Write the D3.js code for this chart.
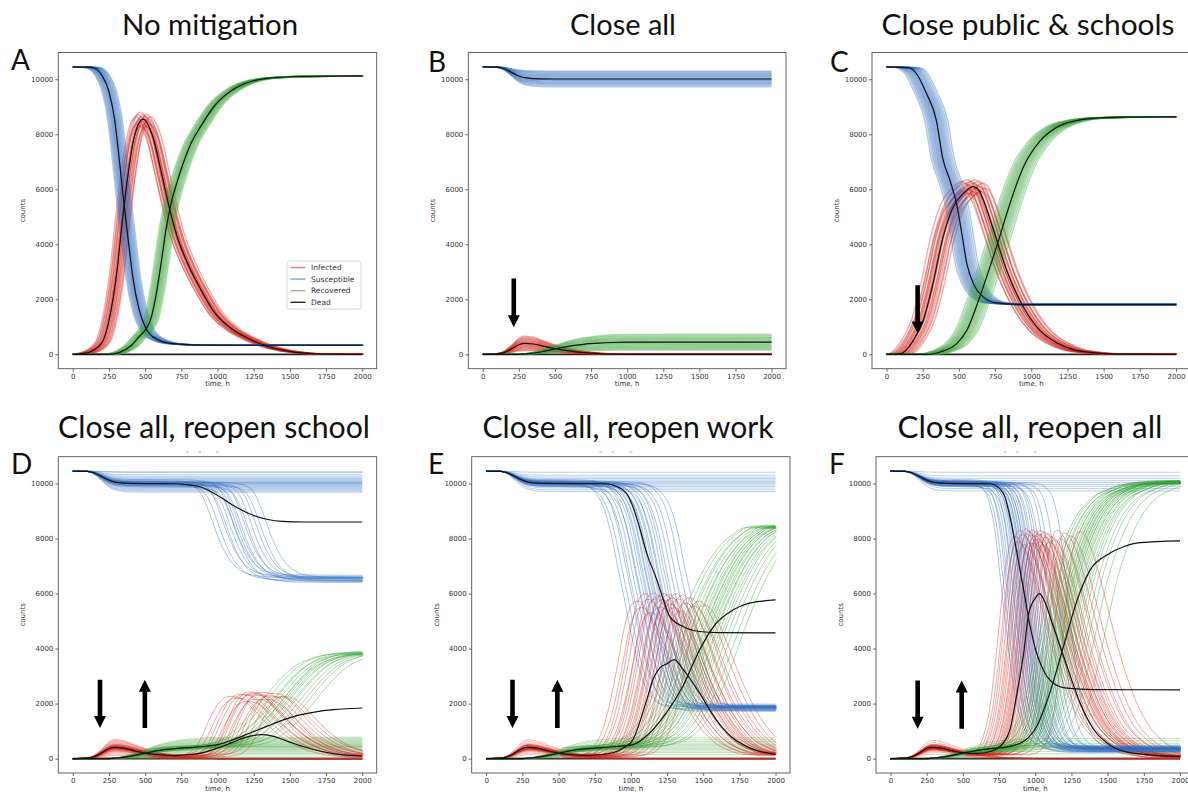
<!DOCTYPE html>
<html>
<head>
<meta charset="utf-8">
<script src="https://cdn.jsdelivr.net/npm/d3@7"></script>
<style>
  body { margin: 0; background: #fff; }
  svg { display: block; }
</style>
</head>
<body>
<svg id="chart" width="1188" height="793"></svg>
<script>
// ---------------- Axis ticks, names, titles ----------------
const xTicks = [0, 250, 500, 750, 1000, 1250, 1500, 1750, 2000];
const yTicks = [0, 2000, 4000, 6000, 8000, 10000];
const seriesNames = ["Infected", "Susceptible", "Recovered", "Dead"];
const panelLetters = ["A", "B", "C", "D", "E", "F"];
const panelTitles = ["No mitigation", "Close all", "Close public & schools",
  "Close all, reopen school", "Close all, reopen work", "Close all, reopen all"];

// ---------------- A: no mitigation (time h, count) ----------------
const aSus = [[0,10450],[100,10440],[150,10400],[200,10150],[250,9550],[290,8500],[320,7150],[350,5650],[380,4300],[415,2800],[460,1600],[505,950],[575,570],[690,390],[880,335],[1100,330],[2000,330]];
const aInf = [[0,0],[70,25],[140,140],[210,500],[255,1350],[300,2800],[345,4950],[380,6450],[415,7650],[450,8330],[485,8550],[520,8350],[560,7800],[600,6900],[640,5950],[680,5050],[720,4300],[790,3350],[875,2450],[990,1450],[1105,900],[1220,560],[1340,300],[1450,150],[1570,60],[1750,10],[2000,0]];
const aRec = [[0,0],[250,0],[320,60],[400,300],[460,650],[507,930],[540,1300],[577,2200],[610,3300],[646,4600],[680,5500],[720,6250],[760,6900],[820,7700],[880,8250],[990,9100],[1100,9600],[1220,9900],[1340,10030],[1570,10100],[2000,10120]];
// runs: [time offset h, early level factor, peak factor]
const aRuns = [[-48,1,1.01],[-40,1,0.98],[-34,1,1.02],[-28,1,0.99],[-23,1,1.0],[-18,1,1.03],[-13,1,0.97],[-9,1,1.01],[-5,1,0.99],[-1,1,1.0],[3,1,1.02],[7,1,0.98],[11,1,1.0],[16,1,1.01],[21,1,0.97],[26,1,1.02],[32,1,0.99],[38,1,1.0],[45,1,0.98],[53,1,1.01]];

// ---------------- B: close all (also the closed phase of D-F) ----------------
const closedSus = [[0,10450],[100,10440],[150,10380],[200,10250],[250,10120],[300,10050],[400,10015],[500,10010],[2000,10010]];
const closedInf = [[0,0],[100,15],[150,70],[200,200],[250,350],[290,400],[350,375],[420,300],[500,210],[600,125],[700,65],[800,28],[900,10],[1000,2],[1100,0],[2000,0]];
const closedRec = [[0,0],[250,0],[300,15],[400,85],[500,195],[600,295],[700,365],[800,405],[900,430],[1000,440],[2000,445]];
const bLevels = [0.35,0.42,0.5,0.57,0.64,0.71,0.78,0.85,0.92,0.98,1.04,1.1,1.17,1.24,1.31,1.38,1.46,1.55,1.65];

// ---------------- C: close public & schools ----------------
const cSus = [[0,10450],[150,10420],[200,10250],[275,9500],[345,8500],[390,7100],[440,6300],[485,5450],[520,4400],[555,3300],[600,2580],[670,2080],[760,1870],[950,1810],[2000,1810]];
const cInf = [[0,0],[90,10],[185,500],[255,1250],[320,2550],[390,4250],[460,5350],[530,5850],[600,6100],[640,5950],[670,5600],[740,4500],[830,3050],[945,1720],[1060,870],[1180,410],[1290,170],[1410,70],[1600,10],[2000,0]];
const cRec = [[0,0],[300,0],[370,85],[485,390],[555,870],[640,2020],[715,3180],[775,4150],[830,5100],[900,6200],[945,6800],[1060,7750],[1175,8250],[1290,8470],[1405,8570],[1640,8620],[2000,8630]];
const cRuns = [[-80,1,1.03],[-68,1,0.97],[-59,1,1.02],[-51,1,0.99],[-44,1,1.04],[-37,1,0.96],[-31,1,1.01],[-25,1,0.98],[-19,1,1.03],[-13,1,1.0],[-7,1,0.97],[-2,1,1.02],[4,1,0.99],[10,1,1.04],[16,1,0.96],[23,1,1.01],[30,1,0.98],[37,1,1.03],[45,1,1.0],[54,1,0.97],[65,1,1.02],[78,1,0.99]];

// ---------------- D: close all, reopen school ----------------
const dSusLate = [[800,10000],[900,9970],[990,9860],[1050,9550],[1100,8950],[1150,8200],[1200,7580],[1260,7070],[1330,6760],[1420,6610],[1550,6550],[2000,6530]];
const dInfLate = [[700,80],[850,100],[950,200],[1030,600],[1100,1400],[1170,2050],[1240,2280],[1300,2250],[1380,1950],[1480,1400],[1580,900],[1700,500],[1830,250],[2000,110]];
const dRecLate = [[700,370],[900,430],[1000,470],[1100,550],[1200,750],[1300,1150],[1400,1700],[1500,2350],[1600,2950],[1700,3400],[1800,3650],[1900,3780],[2000,3830]];
const dSusMean = [[0,10450],[100,10440],[150,10380],[200,10250],[250,10120],[300,10040],[400,10005],[700,9990],[800,9950],[880,9880],[990,9600],[1100,9230],[1220,8900],[1340,8700],[1450,8620],[1600,8600],[2000,8600]];
const dInfMean = [[0,0],[100,15],[150,75],[200,210],[250,370],[290,410],[350,380],[420,290],[500,200],[600,140],[700,110],[800,140],[900,220],[1000,380],[1100,580],[1200,780],[1300,870],[1380,820],[1500,600],[1650,350],[1800,180],[2000,90]];
const dRecMean = [[0,0],[250,0],[300,15],[400,90],[500,200],[600,300],[700,360],[800,400],[900,440],[1000,510],[1100,670],[1220,920],[1340,1170],[1450,1400],[1570,1590],[1700,1720],[1800,1780],[2000,1840]];
const dStayLevels = [0.05,0.12,0.3,0.42,0.52,0.6,0.68,0.75,0.82,0.88,0.94,1.0,1.05,1.1,1.16,1.22,1.28,1.35,1.42,1.5,1.58,1.66,1.75,0.97];
const dWaveRuns = [[-160,0.9,1.0],[-120,1.1,0.95],[-90,0.8,1.05],[-65,1.2,1.0],[-45,1.0,0.9],[-25,0.7,1.1],[-10,1.3,1.0],[0,1.0,1.05],[15,0.9,0.95],[35,1.1,1.0],[55,0.85,1.08],[80,1.2,0.92],[105,1.0,1.0],[135,0.95,1.05],[170,1.15,0.97],[210,0.9,1.0]];

// ---------------- E: close all, reopen work ----------------
const eSusLate = [[700,10000],[800,9980],[880,9900],[950,9650],[1010,9100],[1060,8200],[1110,6900],[1150,5900],[1190,4800],[1240,3600],[1290,2700],[1350,2150],[1420,1920],[1520,1860],[2000,1850]];
const eInfLate = [[700,80],[850,150],[950,500],[1030,1500],[1100,3200],[1160,4900],[1210,5650],[1250,5750],[1300,5500],[1380,4600],[1480,3200],[1580,2000],[1680,1150],[1780,600],[1880,320],[2000,170]];
const eRecLate = [[700,370],[900,440],[1000,500],[1100,650],[1200,1000],[1300,1750],[1400,2950],[1500,4400],[1600,5750],[1700,6850],[1800,7650],[1900,8150],[2000,8420]];
const eSusMean = [[0,10450],[100,10440],[150,10380],[200,10250],[250,10120],[300,10040],[400,10005],[830,9990],[900,9900],[970,9640],[1015,9150],[1060,8400],[1110,7460],[1180,6490],[1225,5770],[1270,5160],[1360,4800],[1475,4620],[1600,4580],[2000,4570]];
const eInfMean = [[0,0],[100,15],[150,75],[200,210],[250,370],[290,410],[350,380],[420,290],[500,200],[600,140],[700,120],[800,150],[900,260],[960,420],[1015,690],[1060,1300],[1110,2140],[1155,2900],[1200,3300],[1250,3450],[1300,3600],[1360,3250],[1475,2380],[1590,1410],[1705,750],[1820,390],[2000,150]];
const eRecMean = [[0,0],[250,0],[300,15],[400,90],[500,200],[600,300],[700,360],[800,400],[900,440],[1015,510],[1130,930],[1245,1660],[1360,2630],[1475,3950],[1590,4920],[1705,5400],[1820,5650],[2000,5770]];
const eStayLevels = [0.1,0.35,0.5,0.62,0.74,0.85,0.95,1.05,1.15,1.27,1.4,1.55,1.7];
const eWaveRuns = [[-200,0.9,1.0],[-170,1.1,0.95],[-145,0.8,1.05],[-125,1.2,1.0],[-105,1.0,0.92],[-88,0.7,1.06],[-72,1.3,1.0],[-57,1.0,1.03],[-43,0.9,0.96],[-30,1.1,1.0],[-18,0.85,1.05],[-6,1.2,0.94],[5,1.0,1.0],[16,0.95,1.04],[28,1.15,0.97],[40,0.9,1.02],[53,1.05,0.95],[67,0.8,1.05],[82,1.25,1.0],[98,1.0,0.93],[115,0.9,1.04],[135,1.1,0.98],[160,0.95,1.02],[190,1.05,0.96],[225,0.85,1.0],[265,1.0,0.97]];

// ---------------- F: close all, reopen all ----------------
const fSusLate = [[650,10000],[720,9960],[780,9800],[830,9300],[870,8300],[905,6700],[935,5300],[965,4000],[1000,2600],[1050,1400],[1110,700],[1180,450],[1270,370],[1400,350],[2000,350]];
const fInfLate = [[650,150],[720,250],[790,800],[845,2200],[890,4300],[935,6600],[975,7800],[1005,8100],[1045,7950],[1100,7300],[1180,5800],[1270,4000],[1370,2400],[1470,1300],[1580,650],[1700,300],[1850,120],[2000,60]];
const fRecLate = [[650,300],[800,420],[900,550],[1000,1100],[1080,2200],[1150,3800],[1200,5000],[1260,6400],[1330,7600],[1420,8700],[1520,9400],[1650,9800],[1800,10000],[2000,10050]];
const fSusMean = [[0,10450],[100,10440],[150,10380],[200,10250],[250,10120],[300,10040],[400,10005],[690,9990],[780,9640],[825,8790],[870,7580],[920,6130],[965,4800],[1010,3830],[1055,3230],[1125,2740],[1220,2560],[1400,2510],[2000,2500]];
const fInfMean = [[0,0],[100,15],[150,75],[200,210],[250,370],[290,410],[350,380],[420,290],[500,210],[600,190],[690,260],[780,570],[825,1050],[870,2260],[920,3830],[955,5280],[1000,5830],[1030,6000],[1060,5770],[1125,4800],[1220,3350],[1310,2020],[1405,1050],[1495,570],[1610,270],[1800,130],[2000,90]];
const fRecMean = [[0,0],[250,0],[300,15],[400,90],[500,200],[600,300],[700,370],[800,420],[920,630],[1010,1170],[1100,2380],[1195,4070],[1290,5770],[1380,6860],[1495,7400],[1610,7700],[1725,7850],[2000,7910]];
const fStayLevels = [0.1,0.4,0.6,0.8,0.95,1.1,1.25,1.45,1.65];
const fWaveRuns = [[-150,0.9,1.0],[-130,1.1,0.97],[-115,0.8,1.03],[-100,1.2,1.0],[-88,1.0,0.96],[-76,0.7,1.04],[-65,1.3,1.0],[-55,1.0,1.02],[-45,0.9,0.97],[-36,1.1,1.0],[-27,0.85,1.03],[-19,1.2,0.96],[-11,1.0,1.0],[-4,0.95,1.02],[3,1.15,0.98],[10,0.9,1.01],[18,1.05,0.97],[26,0.8,1.03],[35,1.25,1.0],[44,1.0,0.96],[54,0.9,1.02],[65,1.1,0.99],[77,0.95,1.01],[90,1.05,0.97],[105,0.85,1.0],[122,1.0,0.98],[142,1.2,1.02],[166,0.9,0.99],[195,1.1,1.01],[235,1.0,1.0],[300,0.95,1.02]];

// Time of the closing (down) and reopening (up) measures: [time, from count, to count]
const bArrows = [[215, 2760, 980]];
const cArrows = [[215, 2510, 760]];
const dArrows = [[188, 2870, 1110], [498, 1110, 2870]];
const eArrows = [[182, 2870, 1110], [492, 1110, 2870]];
const fArrows = [[188, 2840, 1090], [492, 1090, 2840]];

const deadLine = [[0, 0], [2000, 0]];

// ---------------- Styling / layout ----------------
const colors = { I: "#d8281e", S: "#2f6cc0", R: "#38a338", D: "#111" };
const layout = [
  { l: 58.3,  r: 376.7,  t: 52.5,  b: 368.7, tx: 210,  ty: 35,  tw: 176, lx: 11,  ly: 70 },
  { l: 468.3, r: 786.0,  t: 52.5,  b: 368.7, tx: 623,  ty: 35,  tw: 106, lx: 428, ly: 72 },
  { l: 872.0, r: 1190.5, t: 52.5,  b: 368.7, tx: 1028, ty: 35,  tw: 293, lx: 830, ly: 72 },
  { l: 58.3,  r: 376.7,  t: 456.7, b: 773.0, tx: 214,  ty: 438, tw: 312, lx: 11,  ly: 474 },
  { l: 471.7, r: 790.0,  t: 456.7, b: 773.0, tx: 628,  ty: 438, tw: 291, lx: 428, ly: 474 },
  { l: 876.0, r: 1194.5, t: 456.7, b: 773.0, tx: 1030, ty: 438, tw: 265, lx: 829, ly: 474 }
];
// faint marks left under the lower-row titles (x offsets from the plot centre)
const underMarks = [-30, -18, 0];

// ---------------- Build the ensembles ----------------
const upTo = (arr, t) => arr.filter(p => p[0] <= t);
const stay = levels => levels.map(k => [0, k, 1]);

function runPath(tpl, pivot, dt, k1, k2) {
  const v0 = tpl[0][1];
  const vp = tpl.filter(p => p[0] <= pivot).pop()[1];
  const vp1 = v0 + (vp - v0) * k1;
  const pts = [];
  tpl.forEach(([t, v]) => {
    if (t <= pivot) pts.push([t, v0 + (v - v0) * k1]);
    else {
      const tt = t + dt;
      if (tt > pts[pts.length - 1][0]) pts.push([tt, Math.max(0, vp1 + (v - vp) * k2)]);
    }
  });
  const last = pts[pts.length - 1];
  if (last[0] < 2000) pts.push([2000, last[1]]);
  return pts;
}

// group: [series, template, pivot, runs, vary peak, runs that have a second wave]
const wave = (early, late) => upTo(early, 500).concat(late);
const panels = [
  { groups: [["I", aInf, 0, aRuns, true], ["S", aSus, 0, aRuns, false], ["R", aRec, 0, aRuns, false]],
    means: [aInf, aSus, aRec], arrows: [] },
  { groups: [["I", closedInf, 2000, stay(bLevels), false], ["S", closedSus, 2000, stay(bLevels), false], ["R", closedRec, 2000, stay(bLevels), false]],
    means: [closedInf, closedSus, closedRec], arrows: bArrows },
  { groups: [["I", cInf, 0, cRuns, true], ["S", cSus, 0, cRuns, false], ["R", cRec, 0, cRuns, false]],
    means: [cInf, cSus, cRec], arrows: cArrows },
  { groups: [["I", closedInf, 2000, stay(dStayLevels), false], ["S", closedSus, 2000, stay(dStayLevels), false], ["R", closedRec, 2000, stay(dStayLevels), false],
             ["I", wave(closedInf, dInfLate), 500, dWaveRuns, true, 1], ["S", wave(closedSus, dSusLate), 500, dWaveRuns, false, 1], ["R", wave(closedRec, dRecLate), 500, dWaveRuns, false, 1]],
    means: [dInfMean, dSusMean, dRecMean], arrows: dArrows },
  { groups: [["I", closedInf, 2000, stay(eStayLevels), false], ["S", closedSus, 2000, stay(eStayLevels), false], ["R", closedRec, 2000, stay(eStayLevels), false],
             ["I", wave(closedInf, eInfLate), 500, eWaveRuns, true, 1], ["S", wave(closedSus, eSusLate), 500, eWaveRuns, false, 1], ["R", wave(closedRec, eRecLate), 500, eWaveRuns, false, 1]],
    means: [eInfMean, eSusMean, eRecMean], arrows: eArrows },
  { groups: [["I", closedInf, 2000, stay(fStayLevels), false], ["S", closedSus, 2000, stay(fStayLevels), false], ["R", closedRec, 2000, stay(fStayLevels), false],
             ["I", wave(closedInf, fInfLate), 500, fWaveRuns, true, 1], ["S", wave(closedSus, fSusLate), 500, fWaveRuns, false, 1], ["R", wave(closedRec, fRecLate), 500, fWaveRuns, false, 1]],
    means: [fInfMean, fSusMean, fRecMean], arrows: fArrows }
];

// ---------------- Draw ----------------
const svg = d3.select("#chart");
const defs = svg.append("defs");
const tickFont = "'DejaVu Sans', sans-serif";
const titleFont = "Lato, 'Open Sans', sans-serif";

panels.forEach((p, i) => {
  const L = layout[i];
  const x = d3.scaleLinear().domain([-100, 2100]).range([L.l, L.r]);
  const y = d3.scaleLinear().domain([-522.5, 10972.5]).range([L.b, L.t]);
  const line = d3.line().x(d => x(d[0])).y(d => y(d[1])).curve(d3.curveMonotoneX);
  const g = svg.append("g");

  defs.append("clipPath").attr("id", "clip" + i).append("rect")
    .attr("x", x(0) - 1).attr("y", L.t).attr("width", x(2000) - x(0) + 2).attr("height", L.b - L.t);

  // Title and panel letter
  const title = svg.append("text").attr("x", L.tx).attr("y", L.ty).attr("text-anchor", "middle")
    .style("font-family", titleFont).style("font-size", "30px").attr("fill", "#111").text(panelTitles[i]);
  const w = title.node().getComputedTextLength();
  title.style("font-size", (30 * L.tw / w).toFixed(2) + "px");
  svg.append("text").attr("x", L.lx).attr("y", L.ly).style("font-family", titleFont)
    .style("font-size", "28px").attr("fill", "#111").text(panelLetters[i]);
  if (i >= 3) {
    underMarks.forEach(dx => {
      const cx = (L.l + L.r) / 2 + dx;
      svg.append("line").attr("x1", cx - 1.5).attr("x2", cx + 1.5).attr("y1", 452).attr("y2", 452)
        .attr("stroke", "#bbb").attr("stroke-width", 1.2);
    });
  }

  // Axes
  const xa = g.append("g").attr("transform", `translate(0,${L.b})`)
    .call(d3.axisBottom(x).tickValues(xTicks).tickSize(3).tickPadding(2).tickFormat(d3.format("d")));
  const ya = g.append("g").attr("transform", `translate(${L.l},0)`)
    .call(d3.axisLeft(y).tickValues(yTicks).tickSize(3).tickPadding(2).tickFormat(d3.format("d")));
  [xa, ya].forEach(a => {
    a.select(".domain").remove();
    a.selectAll("line").attr("stroke", "#444").attr("stroke-width", 0.8);
    a.selectAll("text").style("font-family", tickFont).style("font-size", "7px").attr("fill", "#333");
  });
  g.append("text").attr("transform", `translate(${L.l - 33},${(L.t + L.b) / 2}) rotate(-90)`)
    .attr("text-anchor", "middle").style("font-family", tickFont).style("font-size", "7px").attr("fill", "#333").text("counts");
  g.append("text").attr("x", (x(0) + x(2000)) / 2).attr("y", Math.min(L.b + 17.5, 790.5))
    .attr("text-anchor", "middle").style("font-family", tickFont).style("font-size", "7px").attr("fill", "#333").text("time, h");

  // Plot content
  const plot = g.append("g").attr("clip-path", `url(#clip${i})`);
  plot.append("path").datum(deadLine).attr("d", line).attr("fill", "none")
    .attr("stroke", "#222").attr("stroke-width", 1.8);

  const lower = i >= 3;
  p.groups.forEach(([key, tpl, pivot, runs, vary, waveRun]) => {
    const width = lower ? 1.0 : 1.4;
    const alpha = lower ? (waveRun ? 0.4 : 0.32) : 0.38;
    runs.forEach(r => {
      plot.append("path").datum(runPath(tpl, pivot, r[0], r[1], vary ? r[2] : 1))
        .attr("d", line).attr("fill", "none").attr("stroke", colors[key])
        .attr("stroke-width", width).attr("stroke-opacity", alpha);
    });
  });
  p.means.forEach(m => {
    plot.append("path").datum(m).attr("d", line).attr("fill", "none")
      .attr("stroke", "#111").attr("stroke-width", 1.2);
  });

  // Frame
  g.append("rect").attr("x", L.l).attr("y", L.t).attr("width", L.r - L.l).attr("height", L.b - L.t)
    .attr("fill", "none").attr("stroke", "#555").attr("stroke-width", 0.9);

  // Close / reopen arrows
  p.arrows.forEach(([t, from, to]) => {
    const ax = x(t), y1 = y(from), y2 = y(to);
    const dir = y2 > y1 ? 1 : -1;
    const head = 12, half = 6, shaft = 2.3;
    const yb = y2 - dir * head;
    g.append("path").attr("fill", "#000").attr("d",
      `M${ax - shaft},${y1} L${ax + shaft},${y1} L${ax + shaft},${yb} L${ax + half},${yb} L${ax},${y2} L${ax - half},${yb} L${ax - shaft},${yb} Z`);
  });

  // Legend (first panel only)
  if (i === 0) {
    const lg = g.append("g");
    lg.append("rect").attr("x", 287).attr("y", 261).attr("width", 74).attr("height", 48).attr("rx", 2)
      .attr("fill", "#fff").attr("fill-opacity", 0.85).attr("stroke", "#ccc").attr("stroke-width", 0.8);
    const keys = ["I", "S", "R", "D"];
    seriesNames.forEach((name, j) => {
      const yy = 267.5 + j * 11.6;
      lg.append("line").attr("x1", 290.5).attr("x2", 305.5).attr("y1", yy).attr("y2", yy)
        .attr("stroke", colors[keys[j]]).attr("stroke-opacity", keys[j] === "D" ? 0.9 : 0.6).attr("stroke-width", 1.4);
      lg.append("text").attr("x", 311).attr("y", yy + 2.6).style("font-family", tickFont)
        .style("font-size", "7.5px").attr("fill", "#333").text(name);
    });
  }
});
</script>
</body>
</html>
